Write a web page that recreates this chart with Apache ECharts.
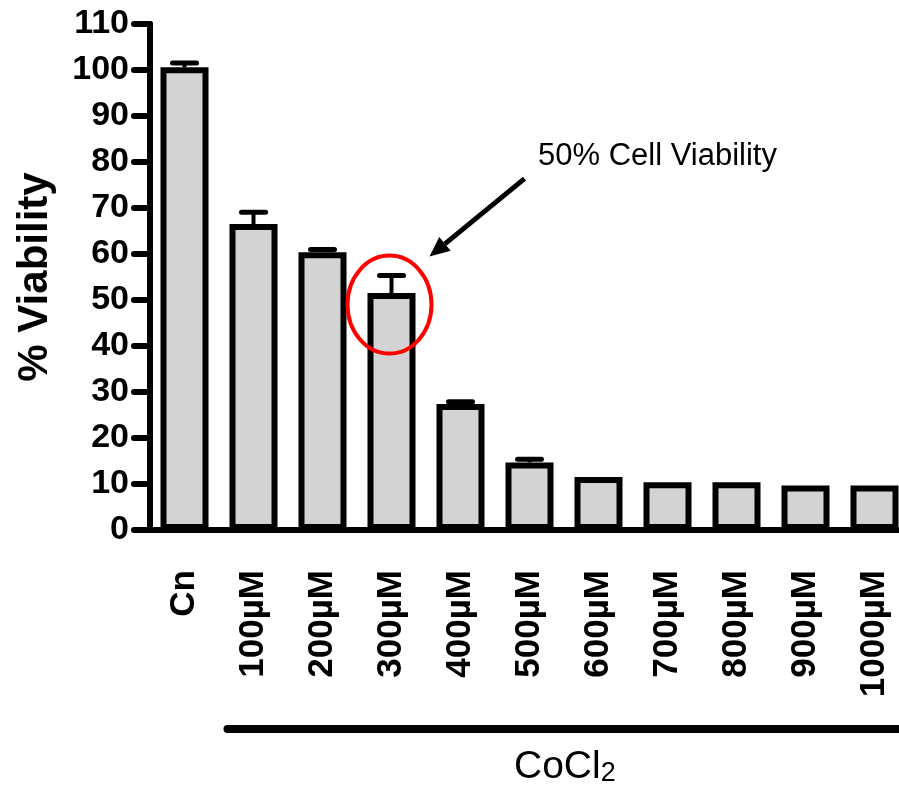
<!DOCTYPE html>
<html>
<head>
<meta charset="utf-8">
<script src="https://cdn.jsdelivr.net/npm/echarts@6/dist/echarts.min.js"></script>
<style>html,body{margin:0;padding:0;background:#fff;overflow:hidden}#c{width:930px;height:800px}</style>
</head>
<body>
<div id="c"></div>
<script>
var categories = ['Cn','100µM','200µM','300µM','400µM','500µM','600µM','700µM','800µM','900µM','1000µM'];
var viability = [100.6, 66.5, 60.4, 51.5, 27.4, 14.7, 11.5, 10.4, 10.4, 9.7, 9.7];
var errorUpper = [101.5, 69.1, 61.0, 55.3, 27.9, 15.4, 11.5, 10.4, 10.4, 9.7, 9.7];
var yTicks = [0, 110, 10];
var annotationText = '50% Cell Viability';
var groupText = 'CoCl';
var groupSub = '2';

var FONT = '"Liberation Sans", Arial, sans-serif';
var chart = echarts.init(document.getElementById('c'));

var errData = categories.map(function (c, i) { return [i, viability[i], errorUpper[i]]; });

chart.setOption({
  animation: false,
  backgroundColor: '#ffffff',
  grid: { left: 150, top: 24, bottom: 270, width: 759, containLabel: false },
  xAxis: {
    type: 'category',
    data: categories,
    axisLine: { lineStyle: { color: '#000', width: 6 } },
    axisTick: { alignWithLabel: true, length: 18, lineStyle: { color: '#000', width: 6, cap: 'round' } },
    axisLabel: { rotate: 90, margin: 40, fontSize: 35, fontWeight: 'bold', color: '#000', fontFamily: FONT, interval: 0 }
  },
  yAxis: {
    type: 'value',
    min: yTicks[0], max: yTicks[1], interval: yTicks[2],
    name: '% Viability',
    nameLocation: 'middle',
    nameRotate: 90,
    nameGap: 94,
    nameTextStyle: { fontSize: 42, fontWeight: 'bold', color: '#000', fontFamily: FONT },
    axisLine: { show: true, lineStyle: { color: '#000', width: 6 } },
    axisTick: { show: true, length: 16, lineStyle: { color: '#000', width: 6, cap: 'round' } },
    axisLabel: { margin: 21, fontSize: 34, fontWeight: 'bold', color: '#000', fontFamily: FONT },
    splitLine: { show: false }
  },
  series: [
    {
      type: 'bar',
      data: viability,
      barWidth: 48,
      itemStyle: { color: '#d3d3d3', borderColor: '#000', borderWidth: 6 },
      z: 2
    },
    {
      type: 'custom',
      data: errData,
      z: 1,
      renderItem: function (params, api) {
        var x = api.value(0);
        var top = api.coord([x, api.value(1)]);
        var hi = api.coord([x, api.value(2)]);
        var hw = 12;
        if (api.value(2) - api.value(1) < 0.3) { return null; }
        return {
          type: 'group',
          children: [
            { type: 'line', shape: { x1: top[0], y1: top[1], x2: hi[0], y2: hi[1] }, style: { stroke: '#000', lineWidth: 4 } },
            { type: 'line', shape: { x1: hi[0] - hw, y1: hi[1], x2: hi[0] + hw, y2: hi[1] }, style: { stroke: '#000', lineWidth: 5, lineCap: 'round' } }
          ]
        };
      }
    }
  ]
});

// Annotations positioned from the axis scales
var p300 = chart.convertToPixel({ xAxisIndex: 0, yAxisIndex: 0 }, ['300µM', 49]);
var pFirstConc = chart.convertToPixel({ xAxisIndex: 0, yAxisIndex: 0 }, ['100µM', 0]);
var cx = p300[0] - 2, cy = p300[1];
var tipX = cx + 40, tipY = cy - 48;
var startX = tipX + 95, startY = tipY - 78;
var ang = Math.atan2(startY - tipY, startX - tipX);
var hl = 20, hwid = 9;
var bx = tipX + Math.cos(ang) * hl, by = tipY + Math.sin(ang) * hl;
var nx = -Math.sin(ang), ny = Math.cos(ang);

chart.setOption({
  graphic: [
    { type: 'ellipse', shape: { cx: cx, cy: cy, rx: 42, ry: 49 }, style: { fill: 'none', stroke: '#ff0000', lineWidth: 4 }, z: 10 },
    { type: 'line', shape: { x1: startX, y1: startY, x2: bx, y2: by }, style: { stroke: '#000', lineWidth: 5 }, z: 10 },
    { type: 'polygon', shape: { points: [[tipX, tipY], [bx + nx * hwid, by + ny * hwid], [bx - nx * hwid, by - ny * hwid]] }, style: { fill: '#000' }, z: 10 },
    { type: 'text', left: 538, top: 141, style: { text: annotationText, font: '31px ' + FONT, fill: '#000' }, z: 10 },
    { type: 'line', shape: { x1: pFirstConc[0] - 26, y1: 729, x2: 925, y2: 729 }, style: { stroke: '#000', lineWidth: 8, lineCap: 'round' }, z: 10 },
    { type: 'text', left: 514, top: 748, style: {
        text: '{a|' + groupText + '}{b|' + groupSub + '}',
        rich: {
          a: { fontSize: 39, fontFamily: FONT, fill: '#000', color: '#000', verticalAlign: 'bottom' },
          b: { fontSize: 27, fontFamily: FONT, fill: '#000', color: '#000', padding: [22, 0, 0, 0], verticalAlign: 'bottom' }
        }
      }, z: 10 }
  ]
});
</script>
</body>
</html>
